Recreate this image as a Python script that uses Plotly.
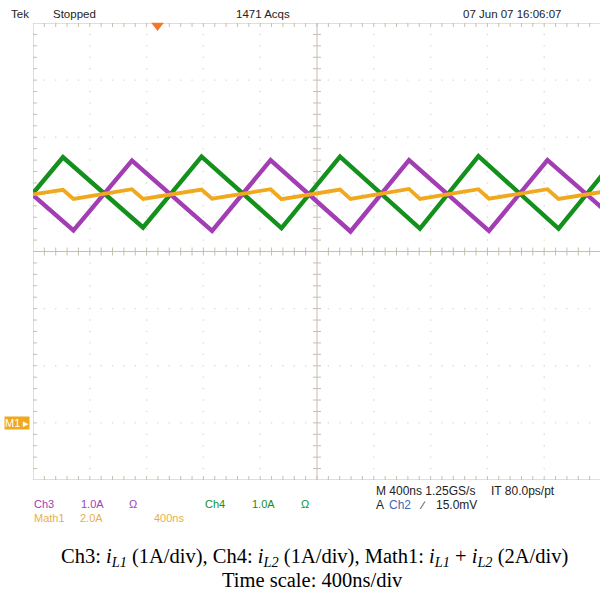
import plotly.graph_objects as go

# ---- acquisition record (vertices of the inductor current ramps) ----
ch4_t_ns = [-201, 211, 775, 1187, 1750, 2162, 2725, 3137, 3701, 4113]
ch4_amp = [3.42, 4.65, 3.42, 4.66, 3.41, 4.66, 3.40, 4.67, 3.40, 4.66]

ch3_t_ns = [-278, 285, 697, 1261, 1673, 2236, 2648, 3211, 3623, 4187]
ch3_amp = [4.59, 3.37, 4.59, 3.36, 4.60, 3.35, 4.60, 3.36, 4.60, 3.37]

math1_t_ns = [-278, -201, 211, 285, 697, 775, 1187, 1261, 1673, 1750,
              2162, 2236, 2648, 2725, 3137, 3211, 3623, 3701, 4113, 4187]
math1_amp = [8.18, 7.85, 8.16, 7.84, 8.18, 7.84, 8.17, 7.85, 8.18, 7.83,
             8.17, 7.84, 8.19, 7.84, 8.18, 7.85, 8.18, 7.84, 8.17, 7.85]

# vertical scale (A/div) and ground-marker position (div) per channel
scale_a_per_div = {"Ch3": 1.0, "Ch4": 1.0, "Math1": 2.0}
offset_div = {"Ch3": -3.0, "Ch4": -3.0, "Math1": -3.0}

time_per_div_ns = 400
trigger_t_ns = 877

# ---- screen geometry ----
W, H = 600, 596
L, R, T, B = 33, 0, 23, 116
plot_w = W - L - R
plot_h = H - T - B
px_per_div_x = 56.8
x_max = plot_w / px_per_div_x * time_per_div_ns
ns_per_px = time_per_div_ns / px_per_div_x
div_per_px = 8.0 / plot_h

GRID = "#c6bfae"
DOT = "#dcdcdc"
PURPLE = "#a23db4"
GREEN = "#14901c"
ORANGE = "#f0a81c"


def to_div(values, ch):
    return [v / scale_a_per_div[ch] + offset_div[ch] for v in values]


def px_x(px):
    return (px - L) / plot_w


def px_y(py):
    return (H - B - py) / plot_h


fig = go.Figure()

# dotted graticule
dx, dy = [], []
for k in range(1, 10):
    if k == 5:
        continue
    for j in range(-19, 20):
        dx.append(k * time_per_div_ns)
        dy.append(j / 5)
for k in range(-3, 4):
    if k == 0:
        continue
    for j in range(1, 50):
        if j % 5 == 0:
            continue
        dx.append(j * time_per_div_ns / 5)
        dy.append(k)
fig.add_trace(go.Scatter(x=dx, y=dy, mode="markers", hoverinfo="skip",
                         marker=dict(symbol="square", size=1.4, color=DOT,
                                     line=dict(width=0))))

# frame, centre cross and their minor ticks
lx, ly = [], []


def seg(x0, y0, x1, y1):
    lx.extend([x0, x1, None])
    ly.extend([y0, y1, None])


seg(0, -4, 0, 4)                                 # left border
seg(0, 4, x_max, 4)                              # top border
seg(0, -4, x_max, -4)                            # bottom border
seg(5 * time_per_div_ns, -4, 5 * time_per_div_ns, 4)  # centre vertical
seg(0, 0, x_max, 0)                              # centre horizontal
tl_x = 4 * ns_per_px
tl_y = 4 * div_per_px
for j in range(1, 50):
    t = j * time_per_div_ns / 5
    seg(t, 4, t, 4 - tl_y)
    seg(t, -4, t, -4 + tl_y)
    if j % 25:
        seg(t, -tl_y, t, tl_y)
for j in range(-19, 20):
    y = j / 5
    seg(0, y, tl_x, y)
    if j:
        seg(5 * time_per_div_ns - tl_x, y, 5 * time_per_div_ns + tl_x, y)
fig.add_trace(go.Scatter(x=lx, y=ly, mode="lines", hoverinfo="skip",
                         line=dict(color=GRID, width=1)))

# waveforms
fig.add_trace(go.Scatter(x=ch4_t_ns, y=to_div(ch4_amp, "Ch4"), mode="lines",
                         line=dict(color=GREEN, width=4.4), name="Ch4"))
fig.add_trace(go.Scatter(x=ch3_t_ns, y=to_div(ch3_amp, "Ch3"), mode="lines",
                         line=dict(color=PURPLE, width=4.4), name="Ch3"))
fig.add_trace(go.Scatter(x=math1_t_ns, y=to_div(math1_amp, "Math1"), mode="lines",
                         line=dict(color=ORANGE, width=3.8), name="Math1"))

# trigger position marker
fig.add_trace(go.Scatter(x=[trigger_t_ns], y=[4 - 2.5 * div_per_px], mode="markers",
                         cliponaxis=False, hoverinfo="skip",
                         marker=dict(symbol="triangle-down", size=11,
                                     color="#f3782a", line=dict(width=0))))

SANS = "Liberation Sans, Arial, sans-serif"
SERIF = "Liberation Serif, Times New Roman, serif"
ann = []


def label(text, px, py, color="#222222", size=11, xanchor="left", font=SANS, **kw):
    ann.append(dict(text=text, x=px_x(px), y=px_y(py), xref="paper", yref="paper",
                    xanchor=xanchor, yanchor="middle", showarrow=False,
                    font=dict(family=font, size=size, color=color), **kw))


# header
label("Tek", 9, 14, size=11.5)
label("Stopped", 51, 14, size=11.5)
label("1471 Acqs", 234, 14, size=11.5)
label("07 Jun 07 16:06:07", 461, 14, size=11.5)

# channel readouts
label("Ch3", 32, 504, PURPLE)
label("1.0A", 79, 504, PURPLE)
label("Ω", 127, 504, PURPLE)
label("Ch4", 203, 504, GREEN)
label("1.0A", 250, 504, GREEN)
label("Ω", 299, 504, GREEN)
label("Math1", 32, 518, "#e8b048")
label("2.0A", 78, 518, "#e8b048")
label("400ns", 152, 518, "#e8b048")
label("M 400ns 1.25GS/s", 374, 491, size=12)
label("IT 80.0ps/pt", 489, 491, size=12)
label("A", 374, 505, size=12)
label("Ch2", 387, 505, "#3b6db3", size=12)
label("∕", 417, 505, size=11)
label("15.0mV", 434, 505, size=12)

# Math1 ground marker
label("M1 ▸", 4, 423, "#ffffff", size=11, bgcolor=ORANGE, borderpad=0)

# caption
label("Ch3: <i>i<sub>L1</sub></i> (1A/div), Ch4: <i>i<sub>L2</sub></i> (1A/div), "
      "Math1: <i>i<sub>L1</sub></i> + <i>i<sub>L2</sub></i> (2A/div)",
      314, 557, "#000000", size=20.5, xanchor="center", font=SERIF)
label("Time scale: 400ns/div", 312, 580, "#000000", size=20.5,
      xanchor="center", font=SERIF)

fig.update_layout(
    width=W, height=H, autosize=False,
    margin=dict(l=L, r=R, t=T, b=B, pad=0),
    paper_bgcolor="white", plot_bgcolor="white",
    showlegend=False,
    xaxis=dict(range=[0, x_max], visible=False, fixedrange=True),
    yaxis=dict(range=[-4, 4], visible=False, fixedrange=True),
    annotations=ann,
)

fig.write_html("out.html")
